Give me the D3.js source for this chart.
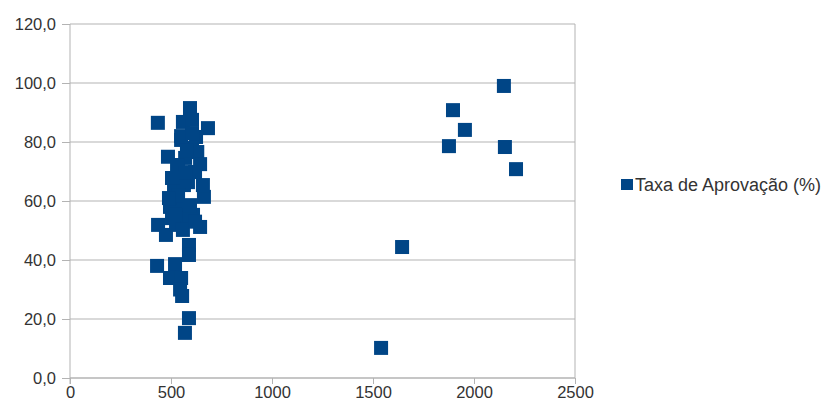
<!DOCTYPE html>
<html><head><meta charset="utf-8">
<script src="https://cdn.jsdelivr.net/npm/d3@7"></script>
<style>body{margin:0;background:#fff}svg{display:block}</style>
</head><body><svg id="c" width="832" height="410"></svg>
<script>
const seriesName = "Taxa de Aprovação (%)";
const xValues = [435, 594, 683, 559, 604, 485, 550, 604, 630, 644, 570, 535, 619, 584, 663, 515, 564, 525, 495, 545, 609, 505, 436, 475, 525, 584, 644, 589, 589, 431, 520, 495, 550, 545, 555, 589, 569,
                 550, 624, 530, 574, 505, 658, 535, 594, 559, 619, 520, 604, 490, 579,
                 2148, 1896, 1955, 1876, 2153, 2208, 1644, 1540];
const yValues = [86.5, 91.5, 84.7, 86.8, 87.5, 75.0, 80.7, 78.0, 76.6, 72.5, 74.6, 70.5, 69.8, 66.4, 61.4, 64.4, 65.4, 60.3, 58.0, 56.3, 55.3, 54.2, 51.9, 48.5, 51.9, 54.2, 51.2, 45.1, 41.7, 38.0, 38.6, 33.9, 33.9, 30.0, 27.8, 20.3, 15.3,
                 82.0, 81.7, 72.2, 69.8, 67.8, 65.4, 62.0, 58.6, 50.2, 53.0, 55.5, 83.0, 61.0, 77.0,
                 99.0, 90.8, 84.1, 78.6, 78.3, 70.8, 44.4, 10.2];
const xTicks = [0, 500, 1000, 1500, 2000, 2500];
const yTicks = [0, 20, 40, 60, 80, 100, 120];

const svg = d3.select("#c");
const L = 70, R = 575, T = 24, B = 378;
const x = d3.scaleLinear().domain([0, 2500]).range([L, R]);
const y = d3.scaleLinear().domain([0, 120]).range([B, T]);
const color = "#004586", grid = "#b3b3b3", txt = "#333";
const font = "'Liberation Sans', Arial, sans-serif";

// gridlines
svg.append("g").selectAll("line").data(yTicks).join("line")
  .attr("x1", L).attr("x2", R).attr("y1", d => y(d)).attr("y2", d => y(d))
  .attr("stroke", grid).attr("stroke-width", 1);
svg.append("line").attr("x1", R).attr("x2", R).attr("y1", T).attr("y2", B).attr("stroke", grid);

// axes
const yAxis = d3.axisLeft(y).tickValues(yTicks).tickSize(8).tickPadding(6)
  .tickFormat(d => d3.format(".1f")(d).replace(".", ","));
const gy = svg.append("g").attr("transform", `translate(${L},0)`).call(yAxis);
const xAxis = d3.axisBottom(x).tickValues(xTicks).tickSize(6).tickPadding(2).tickFormat(d3.format("d"));
const gx = svg.append("g").attr("transform", `translate(0,${B})`).call(xAxis);
[gx, gy].forEach(g => {
  g.select(".domain").attr("stroke", grid);
  g.selectAll(".tick line").attr("stroke", grid);
  g.selectAll("text").attr("fill", txt).style("font-family", font).style("font-size", "16.5px");
});
gx.select(".domain").attr("d", `M${L},0H${R}`);
gy.select(".domain").attr("d", `M0,${T}V${B + 6}`);

// points
const s = 14;
svg.append("g").selectAll("rect").data(xValues.map((v, i) => [v, yValues[i]])).join("rect")
  .attr("x", d => x(d[0]) - s / 2).attr("y", d => y(d[1]) - s / 2)
  .attr("width", s).attr("height", s).attr("fill", color);

// legend
const lg = svg.append("g").attr("transform", "translate(621,185)");
lg.append("rect").attr("x", 0).attr("y", -6).attr("width", 12).attr("height", 11).attr("fill", color);
lg.append("text").attr("x", 14).attr("y", 0).attr("dy", "0.35em").text(seriesName)
  .attr("fill", txt).style("font-family", font).style("font-size", "18px");
</script></body></html>
